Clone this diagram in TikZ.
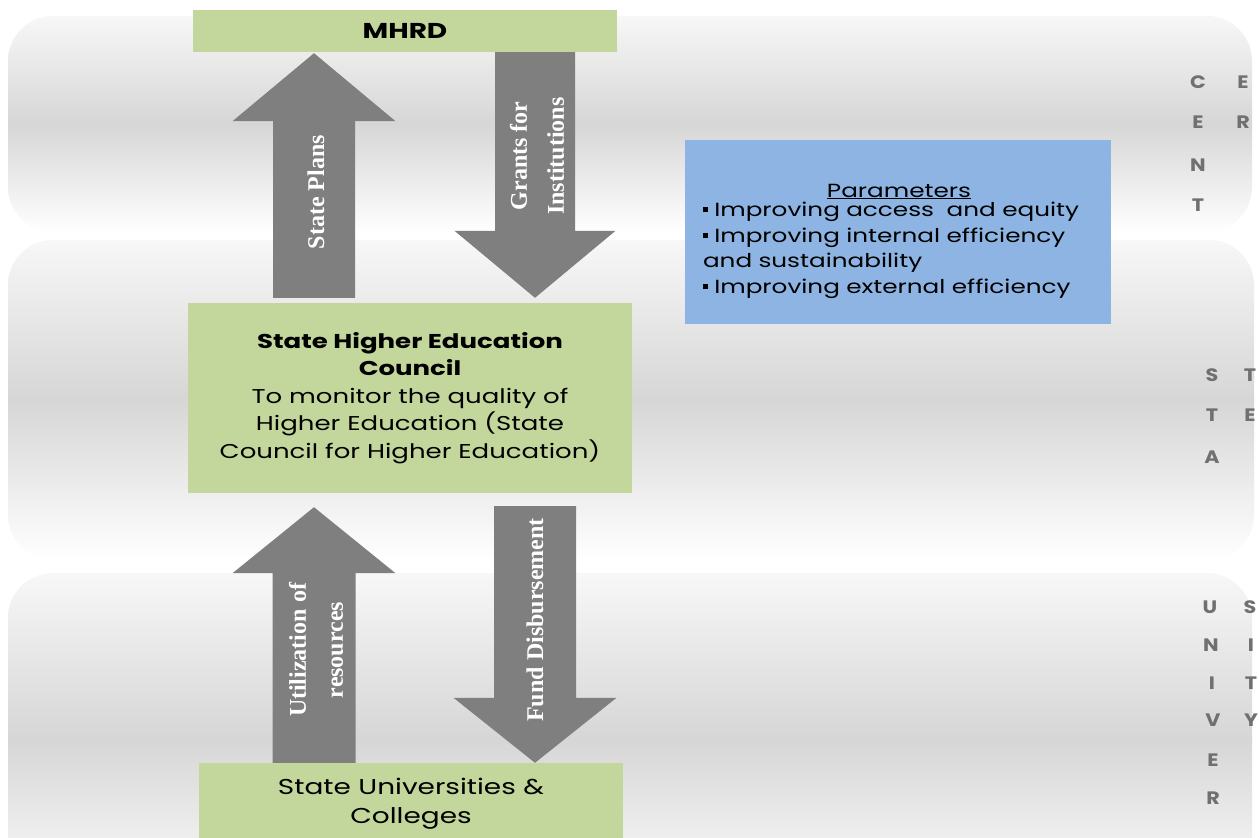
\documentclass[tikz,border=0pt]{standalone}
\usepackage{fontspec}
\setmainfont{Poppins}[FakeStretch=1.3]
\newfontfamily\arrowfont{Liberation Serif}
\newfontfamily\letterfont{Poppins}[FakeStretch=1.15]
\usetikzlibrary{calc}
\definecolor{boxgreen}{HTML}{C3D69B}
\definecolor{boxblue}{HTML}{8DB4E2}
\definecolor{arrowgray}{HTML}{7F7F7F}
\definecolor{lettergray}{HTML}{707070}
\definecolor{bandgray}{HTML}{D6D6D6}

% vertical block arrow: base, tip, shaft half-width, head half-width, signed head length
\newcommand\blockarrow[5]{%
  \fill[arrowgray] ($(#1)+(-#3,0)$) -- ($(#2)+(-#3,#5)$) -- ($(#2)+(-#4,#5)$) -- (#2)
    -- ($(#2)+(#4,#5)$) -- ($(#2)+(#3,#5)$) -- ($(#1)+(#3,0)$) -- cycle;}

\begin{document}
\begin{tikzpicture}[x=1pt,y=-1pt,
  band/.style={rounded corners=45pt, top color=white!97!black, bottom color=white, middle color=bandgray},
  greenbox/.style={fill=boxgreen, inner sep=0pt, align=center, text=black},
  arrowtext/.style={rotate=90, text=white, align=center,
    font=\arrowfont\bfseries\fontsize{24}{37}\selectfont},
  sideletter/.style={text=lettergray, font=\letterfont\fontsize{18}{18}\selectfont\bfseries, inner sep=0pt}
]
\useasboundingbox (0,0) rectangle (1259,838);
\fill[white] (0,0) rectangle (1259,838);

% tier bands
\shade[band] (8,16) rectangle (1252,232);
\shade[band] (8,240) rectangle (1254,560);
\shade[band] (8,573) rectangle (1252,905);

% boxes
\node[greenbox, minimum width=424pt, minimum height=42pt,
      font=\fontsize{21.5}{24}\selectfont\bfseries] (mhrd) at (405,31) {MHRD};
\node[greenbox, minimum width=444pt, minimum height=190pt,
      font=\fontsize{20}{27.5}\selectfont] (shec) at (410,398)
  {{\bfseries State Higher Education}\\{\bfseries Council}\\To monitor the quality of\\Higher Education (State\\Council for Higher Education)};
\node[greenbox, minimum width=424pt, minimum height=82pt,
      font=\fontsize{21.5}{29}\selectfont] (univ) at (411,804)
  {State Universities \&\\Colleges};
\node[fill=boxblue, minimum width=426pt, minimum height=184pt, inner sep=0pt] (params) at (898,232) {};
\node[text width=392pt, align=left, inner sep=0pt, font=\fontsize{19}{25.5}\selectfont] (paramtext) at (899,241)
  {\hfill\underline{Parameters}\hfill\null\\[-6pt]
   \rule[0.22em]{0.26em}{0.26em} Improving access\ \ and equity\\
   \rule[0.22em]{0.26em}{0.26em} Improving internal efficiency\\
   and sustainability\\
   \rule[0.22em]{0.26em}{0.26em} Improving external efficiency};

% arrow end points
\coordinate (spBase) at ([xshift=-96pt,yshift=5pt]shec.north);
\coordinate (spTip)  at ([xshift=-91pt,yshift=-1pt]mhrd.south);
\coordinate (grBase) at ([xshift=130pt]mhrd.south);
\coordinate (grTip)  at ([xshift=125pt,yshift=5pt]shec.north);
\coordinate (utBase) at ([xshift=-97pt]univ.north);
\coordinate (utTip)  at ([xshift=-96pt,yshift=-14pt]shec.south);
\coordinate (fdBase) at ([xshift=125pt,yshift=-13pt]shec.south);
\coordinate (fdTip)  at ([xshift=124pt]univ.north);

\blockarrow{spBase}{spTip}{41}{81.5}{68}
\blockarrow{grBase}{grTip}{40}{80.5}{-67}
\blockarrow{utBase}{utTip}{41.5}{81.5}{66}
\blockarrow{fdBase}{fdTip}{41}{81.5}{-65}

\node[arrowtext] (spText) at (316,192) {State Plans};
\node[arrowtext] (grText) at (537,156) {Grants for\\Institutions};
\node[arrowtext] (utText) at (316,650) {Utilization of\\resources};
\node[arrowtext] (fdText) at (535,620) {Fund Disbursement};

% tier names down the right edge
\foreach \ch/\px/\py [count=\i] in {C/1198/82, E/1198/122, N/1198/165, T/1198/205,
    E/1243/82, R/1243/122,
    S/1212/375, T/1212/415, A/1212/457, T/1250/375, E/1250/415,
    U/1210/607, N/1211/645, I/1212/683, V/1213/720, E/1213/760, R/1213/798,
    S/1250/607, I/1251/645, T/1251/683, Y/1251/720}
  \node[sideletter] (side\i) at (\px,\py) {\ch};
\end{tikzpicture}
\end{document}
